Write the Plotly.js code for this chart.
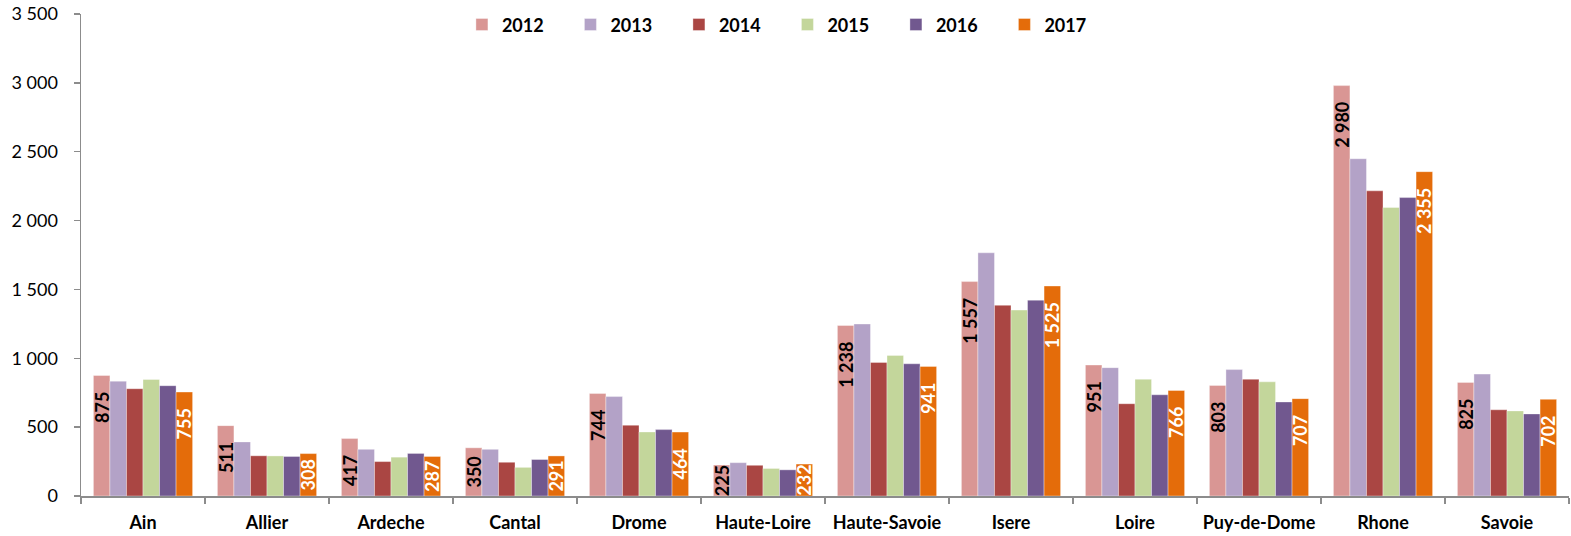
<!DOCTYPE html>
<html>
<head>
<meta charset="utf-8">
<script src="https://cdn.plot.ly/plotly-3.0.1.min.js"></script>
<style>html,body{margin:0;padding:0;background:#fff;}#chart{width:1571px;height:536px;}</style>
</head>
<body>
<div id="chart"></div>
<script>
const categories = ["Ain","Allier","Ardeche","Cantal","Drome","Haute-Loire","Haute-Savoie","Isere","Loire","Puy-de-Dome","Rhone","Savoie"];
const years = ["2012","2013","2014","2015","2016","2017"];
const v2012 = [875, 511, 417, 350, 744, 225, 1238, 1557, 951, 803, 2980, 825];
const v2013 = [834, 393, 339, 339, 722, 242, 1249, 1766, 932, 918, 2449, 885];
const v2014 = [779, 292, 250, 245, 514, 223, 970, 1385, 670, 848, 2216, 626];
const v2015 = [846, 291, 282, 208, 465, 200, 1021, 1350, 848, 829, 2095, 618];
const v2016 = [801, 287, 309, 265, 482, 190, 960, 1422, 735, 683, 2167, 596];
const v2017 = [755, 308, 287, 291, 464, 232, 941, 1525, 766, 707, 2355, 702];
const yTicks = [0, 500, 1000, 1500, 2000, 2500, 3000, 3500];

const series = [v2012, v2013, v2014, v2015, v2016, v2017];
const colors = ["#D99694", "#B3A2C7", "#AA4643", "#C3D69B", "#71588F", "#E46C0A"];
const labelled = {0: "#000000", 5: "#FFFFFF"};
const FONT = "Lato, 'Open Sans', sans-serif";
const pad = "\u00a0\u00a0\u00a0";
const SMALL = 400;

const traces = series.map((vals, i) => ({
  type: "bar",
  name: years[i],
  x: categories,
  y: vals,
  offsetgroup: years[i],
  marker: {color: colors[i], line: {color: "rgba(255,255,255,0.6)", width: 0.6}},
  textposition: "none",
  hoverinfo: "none"
}));

Object.keys(labelled).forEach(k => {
  const i = Number(k);
  const vals = series[i];
  const font = {family: FONT, size: 18, color: labelled[k], weight: "bold"};
  [["end", v => v >= SMALL ? "%{y:,d}" + pad : ""],
   ["middle", v => v < SMALL ? "%{y:,d}" : ""]].forEach(([anchor, fn]) => {
    traces.push({
      type: "bar",
      name: years[i] + " labels",
      showlegend: false,
      x: categories,
      y: vals,
      offsetgroup: years[i],
      marker: {color: "rgba(0,0,0,0)", line: {width: 0}},
      texttemplate: vals.map(fn),
      textposition: "inside",
      insidetextanchor: anchor,
      textangle: -90,
      constraintext: "none",
      insidetextfont: font,
      hoverinfo: "none"
    });
  });
});

const layout = {
  width: 1571,
  height: 536,
  margin: {l: 81, r: 2, t: 14, b: 40},
  paper_bgcolor: "#ffffff",
  plot_bgcolor: "#ffffff",
  separators: ", ",
  barmode: "group",
  bargap: 0.2,
  bargroupgap: 0,
  showlegend: true,
  uniformtext: {mode: "show", minsize: 18},
  legend: {
    orientation: "h",
    x: 0.256,
    xanchor: "left",
    y: 1.016,
    yanchor: "top",
    bgcolor: "rgba(0,0,0,0)",
    entrywidth: 63.5,
    entrywidthmode: "pixels",
    font: {family: FONT, size: 18, color: "#000000", weight: "bold"}
  },
  xaxis: {
    type: "category",
    showgrid: false,
    showline: true,
    linecolor: "#8c8c8c",
    linewidth: 1.5,
    ticks: "outside",
    tickson: "boundaries",
    ticklen: 6,
    tickcolor: "#8c8c8c",
    tickwidth: 1.5,
    ticklabelstandoff: 10,
    tickfont: {family: FONT, size: 18, color: "#000000", weight: "bold"},
    zeroline: false,
    fixedrange: true
  },
  yaxis: {
    range: [0, 3500],
    tickvals: yTicks,
    tickformat: ",d",
    showgrid: false,
    showline: true,
    linecolor: "#8c8c8c",
    linewidth: 1.5,
    ticks: "outside",
    ticklen: 6,
    tickcolor: "#8c8c8c",
    tickwidth: 1.5,
    ticklabelstandoff: 12,
    tickfont: {family: FONT, size: 18, color: "#000000"},
    zeroline: false,
    fixedrange: true
  }
};

Plotly.newPlot("chart", traces, layout, {staticPlot: true, displayModeBar: false});
</script>
</body>
</html>
